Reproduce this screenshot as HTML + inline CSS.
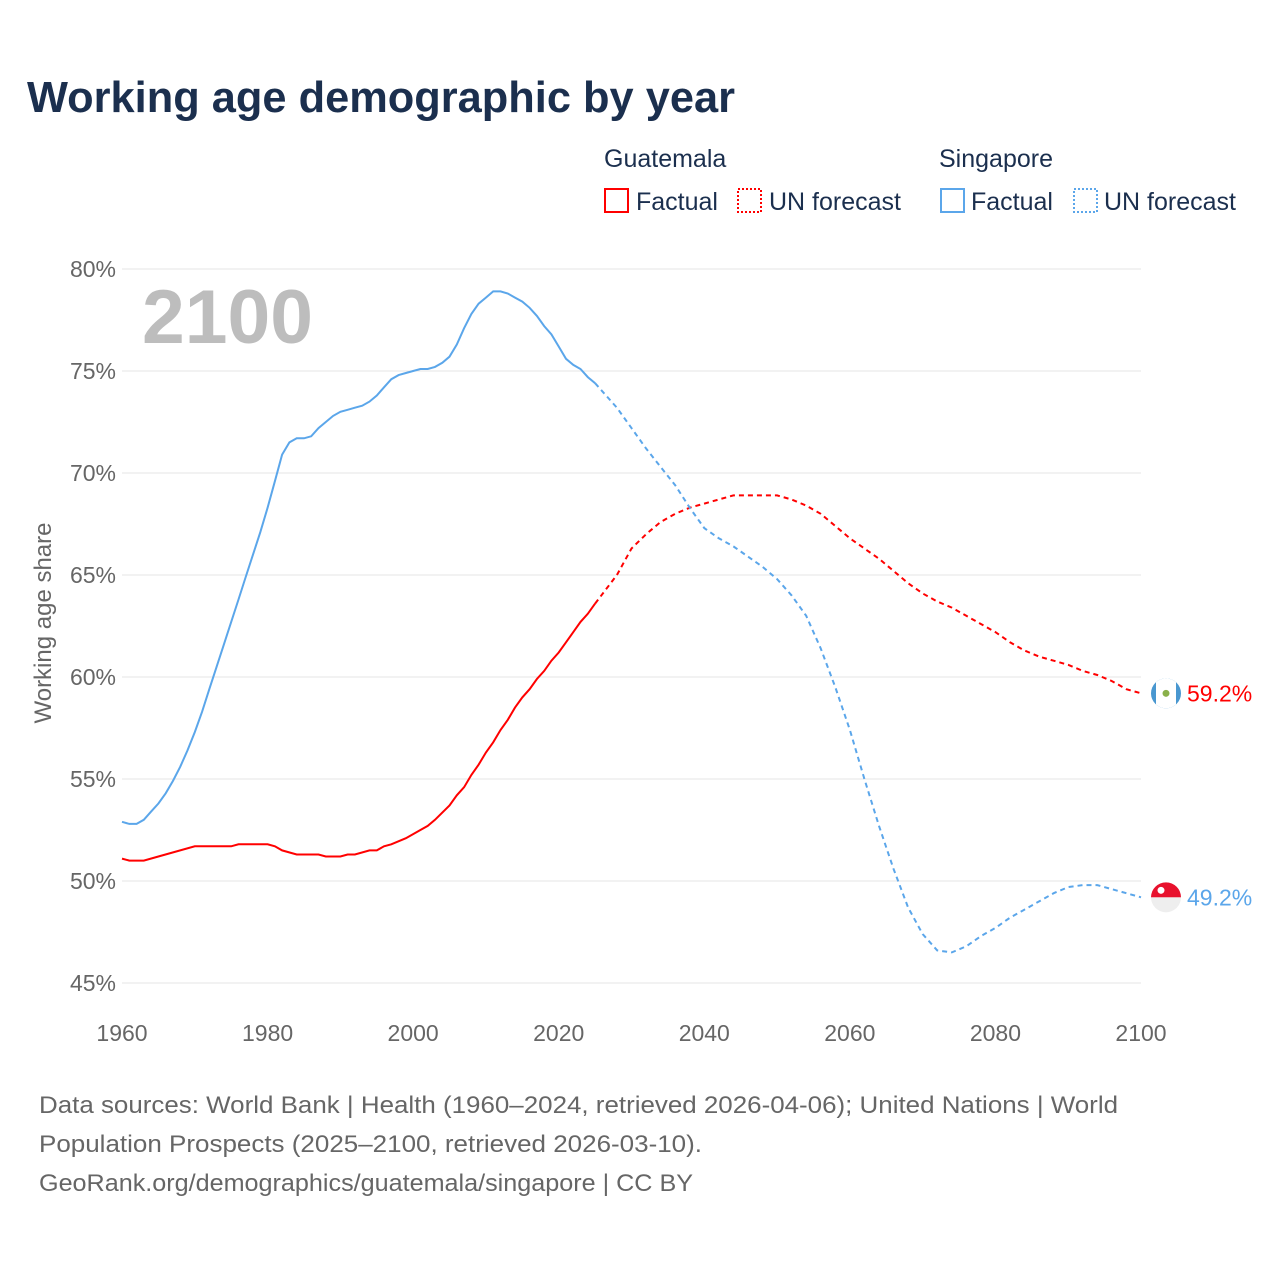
<!DOCTYPE html>
<html><head><meta charset="utf-8">
<style>
body{margin:0;width:1280px;height:1280px;background:#fff;font-family:"Liberation Sans",sans-serif;overflow:hidden}
svg{display:block}
</style></head><body>
<svg id="chart" width="1280" height="1280">
<defs><clipPath id="cgt"><circle id="cgtc" cx="1166" cy="0" r="15"/></clipPath></defs>
<text x="27" y="112" font-size="44" font-weight="bold" fill="#1b2f4e" textLength="708" lengthAdjust="spacingAndGlyphs">Working age demographic by year</text>
<g font-size="25" fill="#1b2f4e">
<text x="604" y="167" fill="#1b2f4e">Guatemala</text>
<text x="939" y="167" fill="#1b2f4e">Singapore</text>
<rect x="605" y="189" width="23" height="23" fill="none" stroke="#f00" stroke-width="2"/>
<text x="636" y="210" fill="#1b2f4e">Factual</text>
<rect x="738" y="189" width="23" height="23" fill="none" stroke="#f00" stroke-width="2" stroke-dasharray="2,2"/>
<text x="769" y="210" fill="#1b2f4e">UN forecast</text>
<rect x="941" y="189" width="23" height="23" fill="none" stroke="#5ba6ea" stroke-width="2"/>
<text x="971" y="210" fill="#1b2f4e">Factual</text>
<rect x="1074" y="189" width="23" height="23" fill="none" stroke="#5ba6ea" stroke-width="2" stroke-dasharray="2,2"/>
<text x="1104" y="210" fill="#1b2f4e">UN forecast</text>
</g>
<text x="142" y="343" font-size="76" font-weight="bold" fill="#bdbdbd" textLength="171" lengthAdjust="spacingAndGlyphs">2100</text>
<text transform="translate(51,623) rotate(-90)" text-anchor="middle" font-size="24" fill="#666">Working age share</text>
<g id="grid"></g><g id="series"></g>
<g font-size="24" fill="#666">
<text x="39" y="1113" textLength="1079" lengthAdjust="spacingAndGlyphs">Data sources: World Bank | Health (1960–2024, retrieved 2026-04-06); United Nations | World</text>
<text x="39" y="1152" textLength="663" lengthAdjust="spacingAndGlyphs">Population Prospects (2025–2100, retrieved 2026-03-10).</text>
<text x="39" y="1191" textLength="654" lengthAdjust="spacingAndGlyphs">GeoRank.org/demographics/guatemala/singapore | CC BY</text>
</g>
</svg>
<script>
const yTicks=[45,50,55,60,65,70,75,80];
const xTicks=[1960,1980,2000,2020,2040,2060,2080,2100];
const gtFactYears=[1960,1961,1963,1965,1970,1975,1976,1980,1981,1982,1984,1987,1988,1990,1991,1992,1994,1995,1996,1997,1999,2001,2002,2003,2005,2006,2007,2008,2009,2010,2011,2012,2013,2014,2015,2016,2017,2018,2019,2020,2021,2022,2023,2024,2025];
const gtFactVals=[51.1,51.0,51.0,51.2,51.7,51.7,51.8,51.8,51.7,51.5,51.3,51.3,51.2,51.2,51.3,51.3,51.5,51.5,51.7,51.8,52.1,52.5,52.7,53.0,53.7,54.2,54.6,55.2,55.7,56.3,56.8,57.4,57.9,58.5,59.0,59.4,59.9,60.3,60.8,61.2,61.7,62.2,62.7,63.1,63.6];
const fcYears=[2025,2028,2030,2032,2034,2036,2038,2040,2042,2044,2046,2048,2050,2052,2054,2056,2058,2060,2062,2064,2066,2068,2070,2072,2074,2076,2078,2080,2082,2084,2086,2088,2090,2092,2094,2096,2098,2100];
const gtFcVals=[63.6,65.0,66.3,67.0,67.6,68.0,68.3,68.5,68.7,68.9,68.9,68.9,68.9,68.7,68.4,68.0,67.4,66.8,66.3,65.8,65.2,64.6,64.1,63.7,63.4,63.0,62.6,62.2,61.7,61.3,61.0,60.8,60.6,60.3,60.1,59.8,59.4,59.2];
const sgFactYears=[1960,1961,1962,1963,1964,1965,1966,1967,1968,1969,1970,1971,1972,1973,1974,1975,1976,1977,1978,1979,1980,1981,1982,1983,1984,1985,1986,1987,1988,1989,1990,1991,1992,1993,1994,1995,1996,1997,1998,1999,2000,2001,2002,2003,2004,2005,2006,2007,2008,2009,2010,2011,2012,2013,2014,2015,2016,2017,2018,2019,2020,2021,2022,2023,2024,2025];
const sgFactVals=[52.9,52.8,52.8,53.0,53.4,53.8,54.3,54.9,55.6,56.4,57.3,58.3,59.4,60.5,61.6,62.7,63.8,64.9,66.0,67.1,68.3,69.6,70.9,71.5,71.7,71.7,71.8,72.2,72.5,72.8,73.0,73.1,73.2,73.3,73.5,73.8,74.2,74.6,74.8,74.9,75.0,75.1,75.1,75.2,75.4,75.7,76.3,77.1,77.8,78.3,78.6,78.9,78.9,78.8,78.6,78.4,78.1,77.7,77.2,76.8,76.2,75.6,75.3,75.1,74.7,74.4];
const sgFcVals=[74.4,73.2,72.2,71.2,70.3,69.4,68.3,67.3,66.8,66.4,65.9,65.4,64.8,64.0,63.0,61.4,59.5,57.4,55.0,52.7,50.6,48.7,47.4,46.6,46.5,46.8,47.3,47.7,48.2,48.6,49.0,49.4,49.7,49.8,49.8,49.6,49.4,49.2];
const ns="http://www.w3.org/2000/svg";
const X=y=>122+(y-1960)*(1141-122)/140;
const Y=v=>983-(v-45)*(983-269)/35;
function mk(t,a,p){const e=document.createElementNS(ns,t);for(const k in a)e.setAttribute(k,a[k]);p.appendChild(e);return e;}
const grid=document.getElementById('grid'),ser=document.getElementById('series');
yTicks.forEach(v=>{
 const l=mk('line',{x1:122,x2:1141,y1:Y(v),y2:Y(v),stroke:'#e6e6e6','stroke-width':1},grid);
 
 
 const t=mk('text',{x:116,y:Y(v)+8,'text-anchor':'end','font-size':23,fill:'#666'},grid);t.textContent=v+'%';
 
 
});
xTicks.forEach(v=>{
 const t=mk('text',{x:X(v),y:1041,'text-anchor':'middle','font-size':23,fill:'#666'},grid);t.textContent=v;
 
 
});
function line(xs,vs,col,dash,name){
 const d=xs.map((x,i)=>(i?'L':'M')+X(x).toFixed(1)+','+Y(vs[i]).toFixed(1)).join('');
 const p=mk('path',{d:d,fill:'none',stroke:col,'stroke-width':2,'stroke-dasharray':dash?'5,4':'none'},ser);
 
 
}
line(gtFactYears,gtFactVals,'#f00',false,'guatemala-factual-line');
line(fcYears,gtFcVals,'#f00',true,'guatemala-forecast-line');
line(sgFactYears,sgFactVals,'#5ba6ea',false,'singapore-factual-line');
line(fcYears,sgFcVals,'#5ba6ea',true,'singapore-forecast-line');
function endLabel(v,col,flag,name){
 const y=Y(v);
 const g=mk('g',{},ser);
 
 
 if(flag==='gt'){
  document.getElementById('cgtc').setAttribute('cy',y);
  const f=mk('g',{'clip-path':'url(#cgt)'},g);
  mk('rect',{x:1150,y:y-16,width:32,height:32,fill:'#4997d0'},f);
  mk('rect',{x:1156,y:y-16,width:20,height:32,fill:'#fff'},f);
  mk('circle',{cx:1166,cy:y,r:3.5,fill:'#8ab04a'},g);
 }else{
  mk('path',{d:`M1151,${y}A15,15 0 0 1 1181,${y}Z`,fill:'#e8112d'},g);
  mk('path',{d:`M1151,${y}A15,15 0 0 0 1181,${y}Z`,fill:'#eee'},g);
  mk('circle',{cx:1161,cy:y-7,r:3.5,fill:'#fff'},g);
 }
 const t=mk('text',{x:1187,y:y+8,'font-size':23,fill:col},g);t.textContent=v.toFixed(1)+'%';
}
endLabel(gtFcVals[gtFcVals.length-1],'#f00','gt','guatemala-end-label');
endLabel(sgFcVals[sgFcVals.length-1],'#5ba6ea','sg','singapore-end-label');
</script>
</body></html>
